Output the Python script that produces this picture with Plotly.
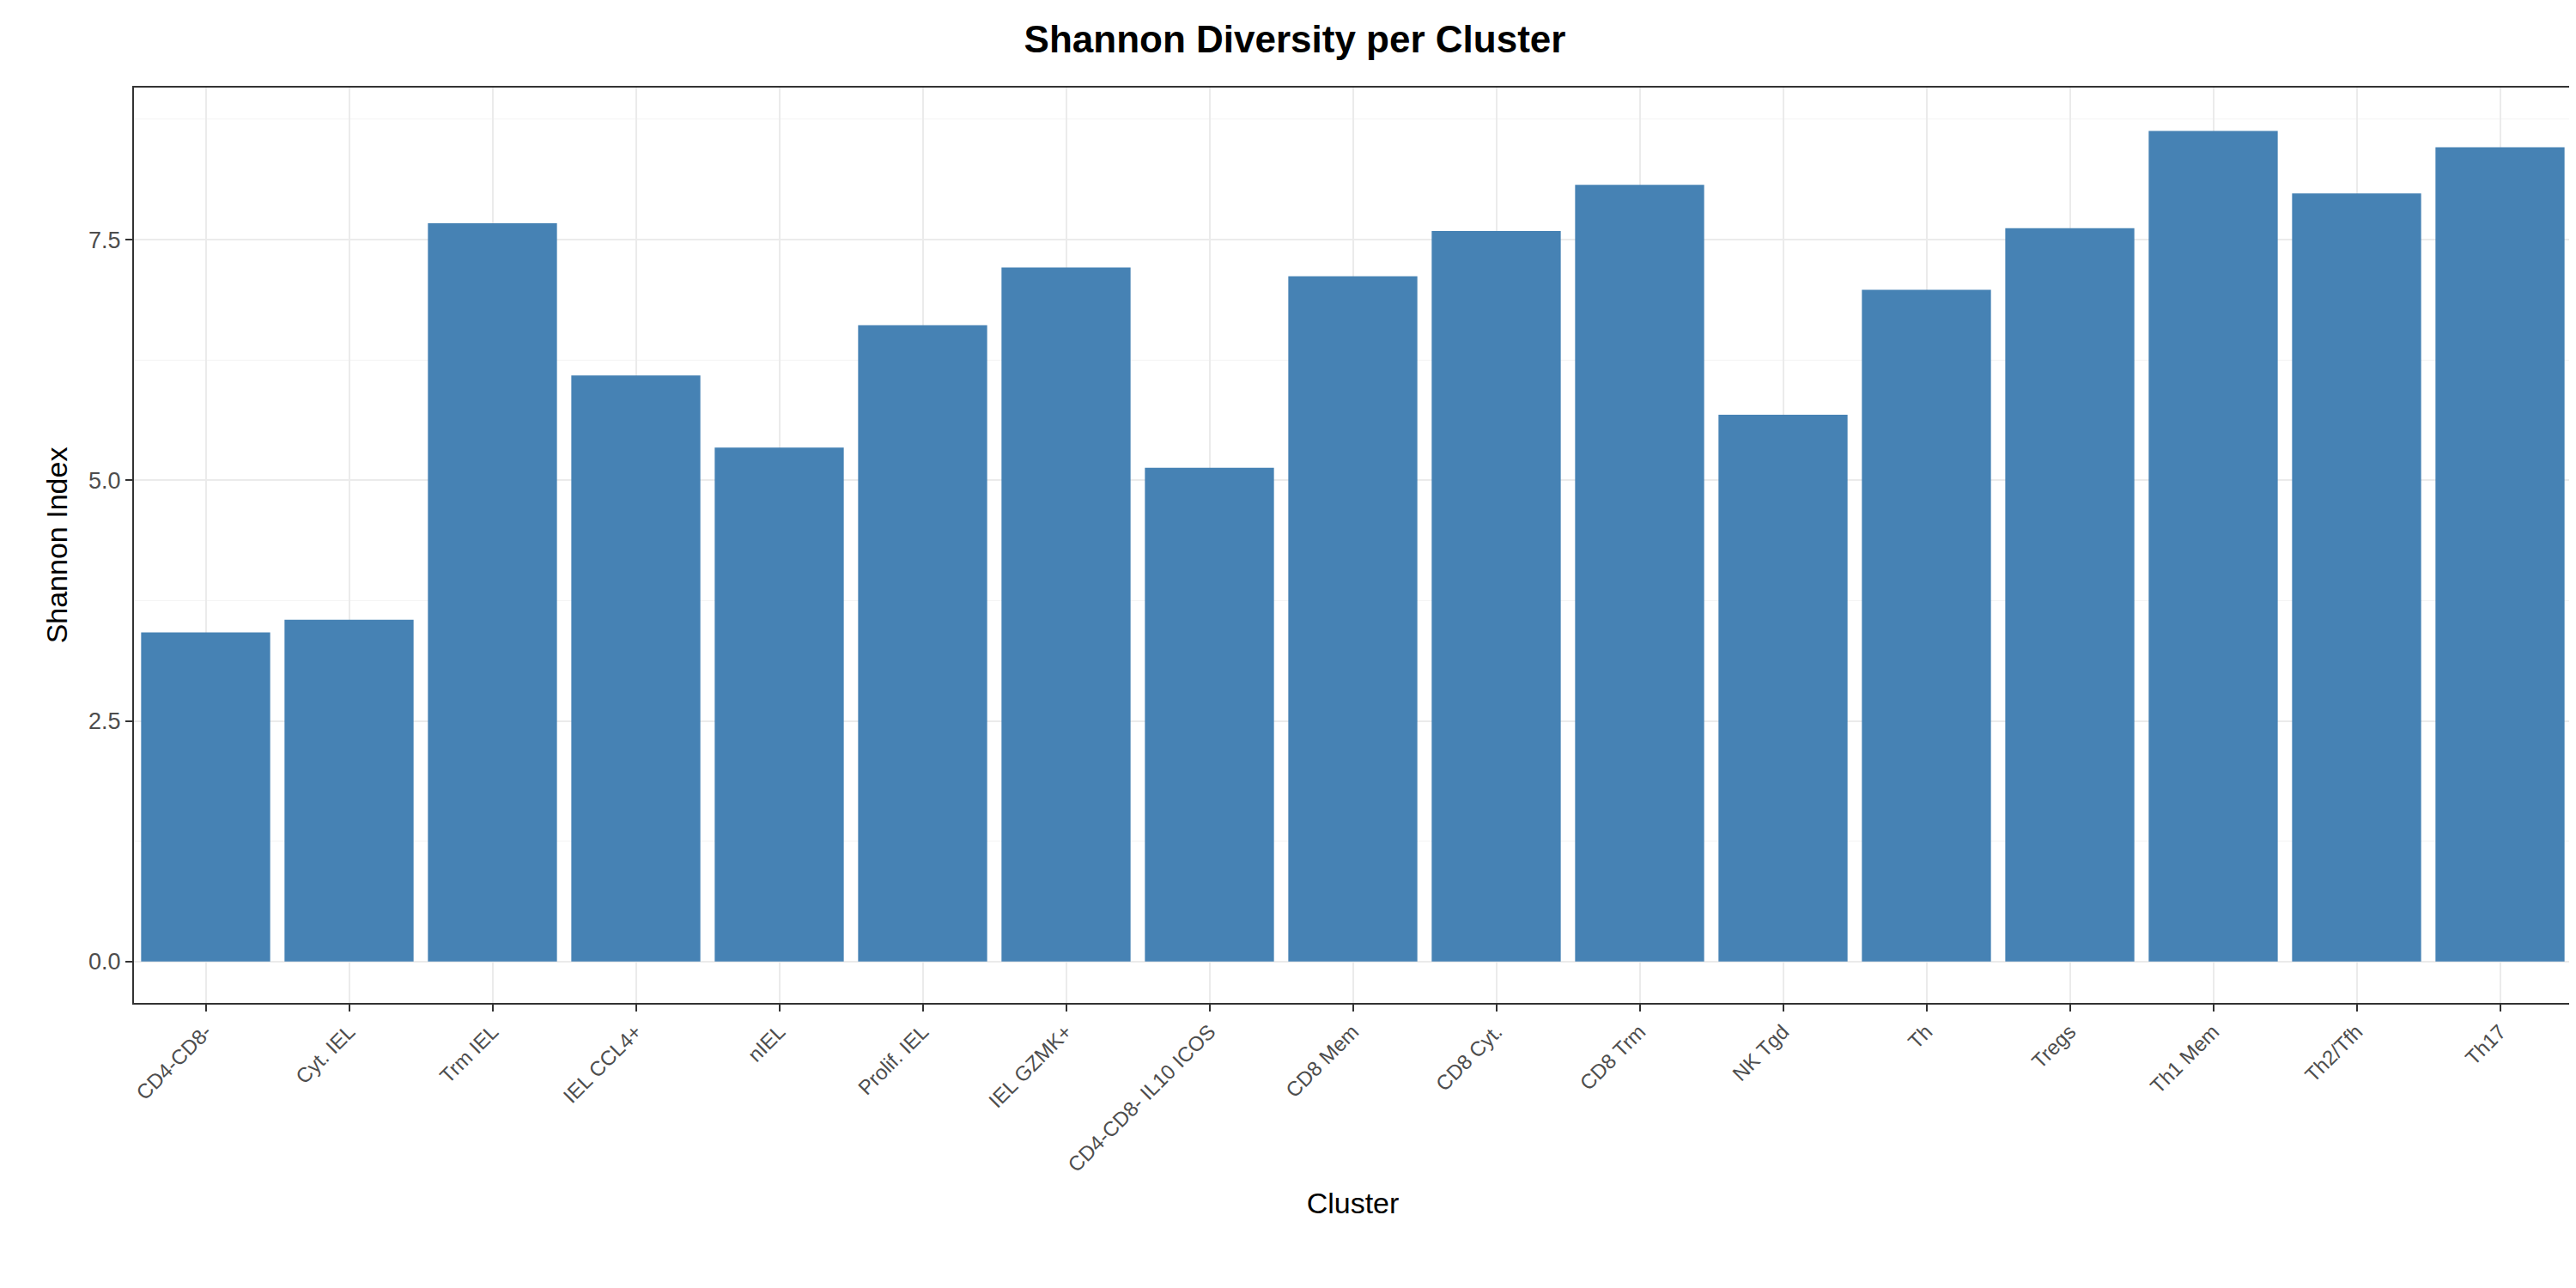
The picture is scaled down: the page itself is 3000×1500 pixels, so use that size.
import plotly.graph_objects as go

clusters = ["CD4-CD8-", "Cyt. IEL", "Trm IEL", "IEL CCL4+", "nIEL", "Prolif. IEL",
            "IEL GZMK+", "CD4-CD8- IL10 ICOS", "CD8 Mem", "CD8 Cyt.", "CD8 Trm",
            "NK Tgd", "Th", "Tregs", "Th1 Mem", "Th2/Tfh", "Th17"]
shannon = [3.42, 3.55, 7.67, 6.09, 5.34, 6.61, 7.21, 5.13, 7.12, 7.59, 8.07,
           5.68, 6.98, 7.62, 8.63, 7.98, 8.46]
y_ticks = [0.0, 2.5, 5.0, 7.5]
y_labels = ["0.0", "2.5", "5.0", "7.5"]

fig = go.Figure()
fig.add_trace(go.Bar(x=clusters, y=shannon, marker=dict(color="#4682B4", line_width=0)))

fig.update_layout(
    width=3000, height=1500,
    margin=dict(l=148, r=13, t=94, b=340),
    plot_bgcolor="white", paper_bgcolor="white",
    bargap=0.1, showlegend=False,
    font=dict(family="Liberation Sans, Arial", color="black"),
    title=dict(text="<b>Shannon Diversity per Cluster</b>", x=0.5, xanchor="center",
               y=0.975, yanchor="middle", font=dict(size=44, color="black")),
)
fig.update_xaxes(
    showline=True, mirror=True, linecolor="#333333", linewidth=2,
    showgrid=True, gridcolor="#EBEBEB", gridwidth=2,
    ticks="outside", tickcolor="#333333", ticklen=8, tickwidth=2,
    tickangle=-45, tickfont=dict(size=24, color="#4D4D4D"),
    title=dict(text="Cluster", font=dict(size=34), standoff=20),
)
fig.update_yaxes(
    range=[-0.43, 9.08], showline=True, mirror=True, linecolor="#333333", linewidth=2,
    showgrid=True, gridcolor="#EBEBEB", gridwidth=2, zeroline=False,
    tickvals=y_ticks, ticktext=y_labels,
    ticks="outside", tickcolor="#333333", ticklen=8, tickwidth=2,
    tickfont=dict(size=27, color="#4D4D4D"),
    minor=dict(tickvals=[1.25, 3.75, 6.25, 8.75], showgrid=True, gridcolor="#F4F4F4", gridwidth=1),
    title=dict(text="Shannon Index", font=dict(size=34), standoff=14),
)
fig.write_html("out.html")
